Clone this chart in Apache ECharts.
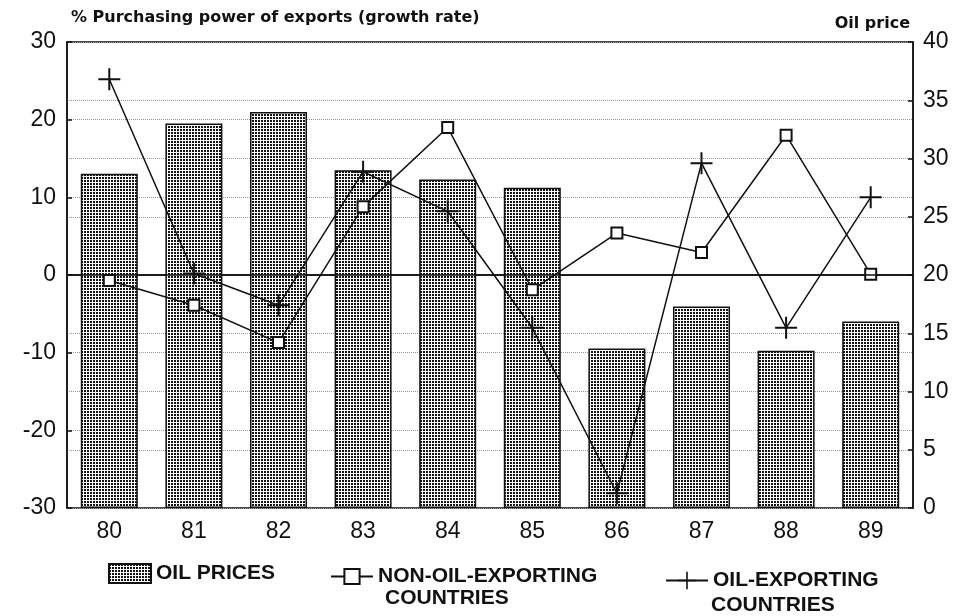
<!DOCTYPE html>
<html>
<head>
<meta charset="utf-8">
<script src="https://cdn.jsdelivr.net/npm/echarts@6/dist/echarts.min.js"></script>
<style>
  html, body { margin: 0; padding: 0; background: #fff; }
  #main { width: 962px; height: 616px; }
</style>
</head>
<body>
<div id="main"></div>
<script>
// data
var years = ['80', '81', '82', '83', '84', '85', '86', '87', '88', '89'];
var oilPrices = [28.7, 33.0, 34.0, 29.0, 28.2, 27.5, 13.7, 17.3, 13.5, 16.0];
var nonOilExporting = [-0.7, -3.9, -8.7, 8.8, 19.0, -1.9, 5.4, 2.9, 18.0, 0.1];
var oilExporting = [25.2, 0.2, -3.9, 13.3, 8.2, -6.8, -28.1, 14.4, -6.8, 10.0];

var leftTicks = { min: -30, max: 30, interval: 10 };
var rightTicks = { min: 0, max: 40, interval: 5 };

// dotted fill for the bars
var dots = document.createElement('canvas');
dots.width = 3;
dots.height = 3;
var ctx = dots.getContext('2d');
ctx.fillStyle = '#fff';
ctx.fillRect(0, 0, 3, 3);
ctx.fillStyle = '#111';
ctx.fillRect(0, 0, 2, 2);

var plusPath = 'path://M10,0 L12,0 L12,22 L10,22 Z M0,10 L22,10 L22,12 L0,12 Z';

var legendFont = { fontFamily: 'Liberation Sans', fontSize: 21, fontWeight: 'bold', color: '#111' };
var axisFont = { fontFamily: 'Liberation Sans', fontSize: 23, color: '#111' };

var dom = document.getElementById('main');
var myChart = echarts.init(dom, null, { renderer: 'canvas' });

var option = {
    animation: false,
    backgroundColor: '#fff',
    title: [
        {
            text: '% Purchasing power of exports (growth rate)',
            left: 66, top: 5,
            textStyle: { fontFamily: 'DejaVu Sans', fontSize: 16, fontWeight: 'bold', color: '#111' }
        },
        {
            text: 'Oil price',
            right: 47, top: 11,
            textStyle: { fontFamily: 'DejaVu Sans', fontSize: 16, fontWeight: 'bold', color: '#111' }
        }
    ],
    grid: {
        left: 67, right: 49, top: 42, bottom: 108,
        show: true,
        borderColor: '#111',
        borderWidth: 1.5
    },
    legend: [
        {
            data: [{ name: 'OIL PRICES', icon: 'rect' }],
            left: 103, top: 558,
            itemWidth: 42, itemHeight: 19,
            textStyle: legendFont
        },
        {
            data: ['NON-OIL-EXPORTING COUNTRIES'],
            left: 325, top: 561,
            itemWidth: 42, itemHeight: 19,
            formatter: function (name) { return name.split(' ')[0]; },
            textStyle: legendFont
        },
        {
            data: ['OIL-EXPORTING COUNTRIES'],
            left: 660, top: 565,
            itemWidth: 42, itemHeight: 22,
            formatter: function (name) { return name.split(' ')[0]; },
            textStyle: legendFont
        }
    ],
    graphic: [
        { type: 'text', left: 385, top: 588, style: { text: 'COUNTRIES', font: 'bold 21px "Liberation Sans"', fill: '#111' } },
        { type: 'text', left: 711, top: 595, style: { text: 'COUNTRIES', font: 'bold 21px "Liberation Sans"', fill: '#111' } }
    ],
    xAxis: {
        type: 'category',
        data: years,
        boundaryGap: true,
        axisLine: { lineStyle: { color: '#111', width: 1.5 } },
        axisTick: { inside: true, alignWithLabel: true, length: 5, lineStyle: { color: '#111' } },
        axisLabel: Object.assign({ margin: 12 }, axisFont),
        splitLine: { show: false }
    },
    yAxis: [
        {
            type: 'value',
            min: leftTicks.min, max: leftTicks.max, interval: leftTicks.interval,
            position: 'left',
            axisLine: { show: true, lineStyle: { color: '#111', width: 1.5 } },
            axisTick: { show: true, inside: true, length: 5, lineStyle: { color: '#111', width: 1.5 } },
            axisLabel: Object.assign({ margin: 11 }, axisFont),
            splitLine: { show: true, lineStyle: { color: '#999', type: 'dotted', width: 1 } }
        },
        {
            type: 'value',
            min: rightTicks.min, max: rightTicks.max, interval: rightTicks.interval,
            position: 'right',
            alignTicks: false,
            axisLine: { show: true, lineStyle: { color: '#111', width: 1.5 } },
            axisTick: { show: true, inside: true, length: 5, lineStyle: { color: '#111', width: 1.5 } },
            axisLabel: Object.assign({ margin: 10 }, axisFont),
            splitLine: { show: true, lineStyle: { color: '#999', type: 'dotted', width: 1 } }
        }
    ],
    series: [
        {
            name: 'OIL PRICES',
            type: 'bar',
            yAxisIndex: 1,
            barWidth: 57,
            data: oilPrices,
            itemStyle: {
                color: { image: dots, repeat: 'repeat' },
                borderColor: '#111',
                borderWidth: 1.5
            },
            z: 1
        },
        {
            name: 'NON-OIL-EXPORTING COUNTRIES',
            type: 'line',
            yAxisIndex: 0,
            data: nonOilExporting,
            symbol: 'emptyRect',
            symbolSize: 11,
            lineStyle: { color: '#111', width: 1.5 },
            itemStyle: { color: '#111', borderColor: '#111', borderWidth: 1.5 },
            markLine: {
                silent: true,
                symbol: 'none',
                label: { show: false },
                lineStyle: { color: '#111', type: 'solid', width: 1.5 },
                data: [{ yAxis: 0 }]
            },
            z: 3
        },
        {
            name: 'OIL-EXPORTING COUNTRIES',
            type: 'line',
            yAxisIndex: 0,
            data: oilExporting,
            symbol: plusPath,
            symbolSize: 22,
            lineStyle: { color: '#111', width: 1.5 },
            itemStyle: { color: '#111' },
            z: 3
        }
    ]
};

if (option && typeof option === "object") {
    myChart.setOption(option, true);
}
</script>
</body>
</html>
